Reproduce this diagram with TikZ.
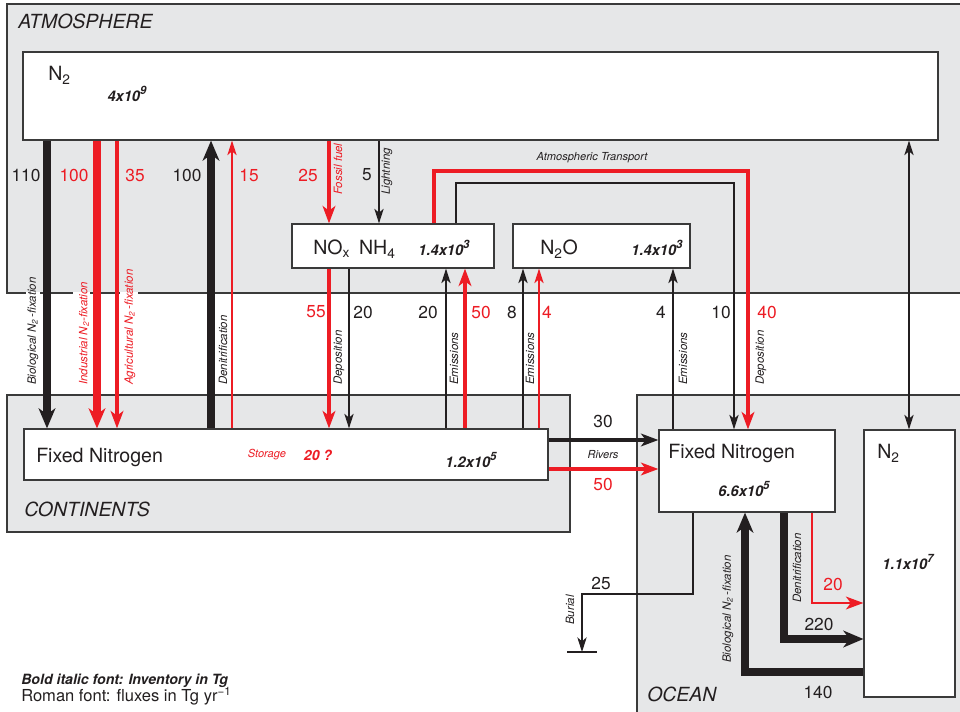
\documentclass[tikz,border=0pt]{standalone}
\usepackage{fontspec}
\setmainfont{TeX Gyre Heros}
\usetikzlibrary{arrows.meta,fit}
\definecolor{nred}{HTML}{ED1C24}
\definecolor{nblk}{HTML}{231F20}
\definecolor{ngray}{HTML}{E6E7E8}
\definecolor{nedge}{HTML}{3A3A3A}
\newcommand\invsup[1]{\raisebox{0.45em}{\fontsize{8.6}{9}\selectfont #1}}
\tikzset{
  tipT/.tip={Stealth[length=11pt,width=7pt,inset=3pt]},
  tipM/.tip={Stealth[length=13pt,width=9.5pt,inset=3.5pt]},
  tipK/.tip={Stealth[length=15pt,width=12.5pt,inset=4.5pt]},
}
\begin{document}
\begin{tikzpicture}[x=0.75pt,y=-0.75pt,
  region/.style={draw=nedge,line width=0.9pt,fill=ngray,inner sep=0pt},
  pool/.style={draw=nedge,line width=0.9pt,fill=white,inner sep=0pt},
  arrT/.style={draw=nblk,line width=0.9pt,arrows={-tipT}},
  arrM/.style={draw=nblk,line width=2.4pt,arrows={-tipM}},
  arrK/.style={draw=nblk,line width=5.3pt,arrows={-tipK}},
  arrTT/.style={draw=nblk,line width=0.9pt,arrows={tipT-tipT}},
  plain/.style={draw=nblk,line width=0.9pt},
  knock/.style={draw=white,line width=1.6pt},
  lab/.style={font=\fontsize{8.6}{9}\selectfont\itshape,text=nblk,rotate=90,anchor=west,inner sep=0pt},
  hlab/.style={font=\fontsize{8.3}{9}\selectfont\itshape,text=nblk,inner sep=0pt},
  num/.style={font=\fontsize{13}{15}\selectfont,text=nblk,inner sep=0pt},
  inv/.style={font=\fontsize{11}{13}\selectfont\bfseries\itshape,text=nblk,inner sep=0pt},
  big/.style={font=\fontsize{14.7}{17}\selectfont,text=nblk,inner sep=0pt,anchor=base west},
  reg/.style={font=\fontsize{14.6}{17}\selectfont\itshape,text=nblk,inner sep=0pt,anchor=base west},
]
\useasboundingbox (0,0) rectangle (960,712);
\clip (0,0) rectangle (960,712);
\fill[white] (0,0) rectangle (960,712);

% regions
\node[region,fit={(7,4) (966,293)}] (atm) {};
\node[region,fit={(7,395) (570,532)}] (cont) {};
\node[region,fit={(637,395) (966,720)}] (ocean) {};
% label knock-outs on the atmosphere border
\draw[knock] (26,293) -- (40,293);
\draw[knock] (73,293) -- (90,293);
\draw[knock] (120,293) -- (138,293);

% pools
\node[pool,fit={(23,52) (938,140)}] (atmN2) {};
\node[pool,fit={(292,224) (494,268)}] (nox) {};
\node[pool,fit={(513,224) (690,268)}] (ntwoo) {};
\node[pool,fit={(24,429) (548,480)}] (contFN) {};
\node[pool,fit={(659,430) (835,512)}] (oceanFN) {};
\node[pool,fit={(864,430) (955,697)}] (oceanN2) {};

% region titles
\node[reg] (tatm) at (18,29) {ATMOSPHERE};
\node[reg] (tcont) at (24,517) {CONTINENTS};
\node[reg] (tocean) at (647,701) {OCEAN};

% pool texts
\node[big] (lN2a) at (48,81) {N\textsubscript{2}};
\node[inv] (iN2a) at (127,94) {4x10\invsup{9}};
\node[big] (lnox) at (313,255) {NO\textsubscript{x}\hspace{0.45em}NH\textsubscript{4}};
\node[inv] (inox) at (444,248) {1.4x10\invsup{3}};
\node[big] (lntwoo) at (540,255) {N\textsubscript{2}O};
\node[inv] (intwoo) at (657,248) {1.4x10\invsup{3}};
\node[big] (lcont) at (36,463) {Fixed Nitrogen};
\node[hlab,text=nred] (lstor) at (267,455) {Storage};
\node[inv,text=nred,font=\fontsize{10.5}{12}\selectfont\bfseries\itshape] (istor) at (318,455) {20 ?};
\node[inv] (icont) at (471,460) {1.2x10\invsup{5}};
\node[big] (locean) at (668,459) {Fixed Nitrogen};
\node[inv] (iocean) at (744,489) {6.6x10\invsup{5}};
\node[big] (lN2o) at (877,459) {N\textsubscript{2}};
\node[inv] (iN2o) at (908,562) {1.1x10\invsup{7}};

% atmosphere <-> continents
\draw[arrK] (47,0 |- atmN2.south) -- (47,0 |- contFN.north);
\draw[arrK,draw=nred] (97,0 |- atmN2.south) -- (97,0 |- contFN.north);
\draw[arrM,draw=nred,line width=2.7pt] (117,0 |- atmN2.south) -- (117,0 |- contFN.north);
\draw[arrK] (211,0 |- contFN.north) -- (211,0 |- atmN2.south);
\draw[arrT,draw=nred] (232,0 |- contFN.north) -- (232,0 |- atmN2.south);
\draw[arrM,draw=nred] (329,0 |- atmN2.south) -- (329,0 |- nox.north);
\draw[arrT] (379,0 |- atmN2.south) -- (379,0 |- nox.north);
\draw[arrM,draw=nred,line width=3pt] (329,0 |- nox.south) -- (329,0 |- contFN.north);
\draw[arrT] (349,0 |- nox.south) -- (349,0 |- contFN.north);
\draw[arrT] (446,0 |- contFN.north) -- (446,0 |- nox.south);
\draw[arrM,draw=nred,line width=3.3pt] (465,0 |- contFN.north) -- (465,0 |- nox.south);
\draw[arrT] (523,0 |- contFN.north) -- (523,0 |- ntwoo.south);
\draw[arrT,draw=nred] (539,0 |- contFN.north) -- (539,0 |- ntwoo.south);

% atmospheric transport
\draw[arrM,draw=nred,line width=2.6pt] (434,0 |- nox.north) -- (434,171) -| (748,0 |- oceanFN.north);
\draw[arrT] (456,0 |- nox.north) -- (456,183) -| (734,0 |- oceanFN.north);

% ocean
\draw[arrT] (673,0 |- oceanFN.north) -- (673,0 |- ntwoo.south);
\draw[arrTT] (909,0 |- atmN2.south) -- (909,0 |- oceanN2.north);
\draw[arrM,line width=2.5pt] (contFN.east |- 0,440) -- (oceanFN.west |- 0,440);
\draw[arrM,draw=nred,line width=2.5pt] (contFN.east |- 0,469) -- (oceanFN.west |- 0,469);
\coordinate (gnd) at (582,652);
\draw[arrT] (693,0 |- oceanFN.south) |- (582,594) -- (gnd);
\draw[plain] ([xshift=-11pt]gnd) -- ([xshift=11pt]gnd);
\draw[arrK] (784,0 |- oceanFN.south) |- (oceanN2.west |- 0,639);
\draw[arrM,draw=nred,line width=2.1pt] (812,0 |- oceanFN.south) |- (oceanN2.west |- 0,603);
\draw[arrK] (oceanN2.west |- 0,672) -| (745,0 |- oceanFN.south);

% flux numbers
\node[num] (n110) at (26,175) {110};
\node[num,text=nred] (n100r) at (74,175) {100};
\node[num,text=nred] (n35) at (135,175) {35};
\node[num] (n100) at (187,175) {100};
\node[num,text=nred] (n15) at (249,175) {15};
\node[num,text=nred] (n25) at (308,175) {25};
\node[num] (n5) at (367,175) {5};
\node[num,text=nred] (n55) at (316,312) {55};
\node[num] (n20a) at (363,312) {20};
\node[num] (n20b) at (428,312) {20};
\node[num,text=nred] (n50a) at (481,312) {50};
\node[num] (n8) at (512,312) {8};
\node[num,text=nred] (n4r) at (547,312) {4};
\node[num] (n4) at (661,312) {4};
\node[num] (n10) at (721,312) {10};
\node[num,text=nred] (n40) at (767,312) {40};
\node[num] (n30) at (603,421) {30};
\node[num,text=nred] (n50b) at (603,484) {50};
\node[num] (n25b) at (601,583) {25};
\node[num,text=nred] (n20c) at (833,584) {20};
\node[num] (n220) at (819,624) {220};
\node[num] (n140) at (818,692) {140};

% process labels
\node[lab] (pbio) at (33,385) {Biological N\textsubscript{2}\,-fixation};
\node[lab,text=nred] (pind) at (84,385) {Industrial N\textsubscript{2}-fixation};
\node[lab,text=nred] (pagr) at (130,385) {Agricultural N\textsubscript{2}\,-fixation};
\node[lab] (pden) at (223,385) {Denitrification};
\node[lab,text=nred] (pfos) at (338,195) {Fossil fuel};
\node[lab] (plig) at (387,195) {Lightning};
\node[lab] (pdep) at (339,385) {Deposition};
\node[lab] (pem1) at (454,385) {Emissions};
\node[lab] (pem2) at (530,385) {Emissions};
\node[lab] (pem3) at (683,385) {Emissions};
\node[lab] (pdep2) at (761,385) {Deposition};
\node[lab] (pbur) at (570,625) {Burial};
\node[lab] (pden2) at (797,603) {Denitrification};
\node[lab] (pbio2) at (728,663) {Biological N\textsubscript{2}\,-fixation};
\node[hlab] (ptrans) at (592,158) {Atmospheric Transport};
\node[hlab] (priv) at (603,455) {Rivers};

% legend
\node[font=\fontsize{10.6}{12}\selectfont\bfseries\itshape,text=nblk,inner sep=0pt,anchor=base west] (leg1) at (21,684) {Bold italic font: Inventory in Tg};
\node[font=\fontsize{12.4}{14}\selectfont,text=nblk,inner sep=0pt,anchor=base west] (leg2) at (21,701) {Roman font: fluxes in Tg yr\textsuperscript{\char"2212 1}};
\end{tikzpicture}
\end{document}
